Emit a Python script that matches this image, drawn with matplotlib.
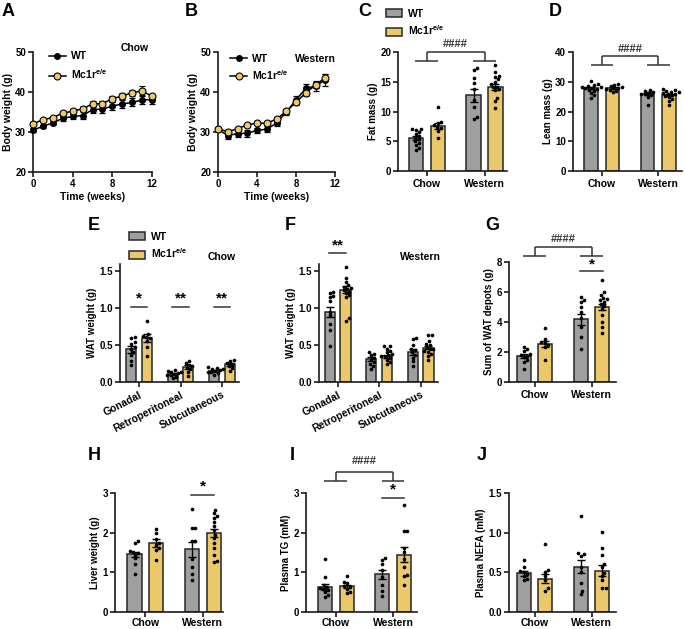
import matplotlib
matplotlib.use("Agg")
import matplotlib.pyplot as plt
from matplotlib.patches import Patch
from matplotlib.lines import Line2D
import numpy as np

plt.rcParams['font.family'] = ['Liberation Sans', 'DejaVu Sans']
plt.rcParams['font.weight'] = 'bold'
plt.rcParams['mathtext.fontset'] = 'custom'
plt.rcParams['mathtext.rm'] = 'Liberation Sans:bold'
plt.rcParams['mathtext.it'] = 'Liberation Sans:bold'
plt.rcParams['mathtext.bf'] = 'Liberation Sans:bold'

# ---------------- data ----------------
genotypes = ['WT', r'Mc1r$^{e/e}$']
diets = ['Chow', 'Western']
depots = ['Gonadal', 'Retroperitoneal', 'Subcutaneous']

weeks_chow = [0, 1, 2, 3, 4, 5, 6, 7, 8, 9, 10, 11, 12]
bw_chow_wt = [30.5, 31.4, 32.3, 33.4, 33.9, 34.1, 35.6, 35.7, 36.5, 37.0, 37.4, 38.0, 38.1]
bw_chow_wt_sem = [0.4, 0.4, 0.5, 0.6, 0.7, 0.8, 0.8, 0.9, 0.9, 1.0, 1.0, 1.1, 1.0]
bw_chow_ko = [32.0, 33.1, 33.6, 34.7, 35.2, 35.8, 37.0, 37.1, 38.3, 39.0, 39.8, 40.3, 38.9]
bw_chow_ko_sem = [0.4, 0.5, 0.5, 0.6, 0.6, 0.6, 0.7, 0.7, 0.7, 0.8, 0.8, 1.1, 0.7]

weeks_west = [0, 1, 2, 3, 4, 5, 6, 7, 8, 9, 10, 11]
bw_west_wt = [30.7, 29.1, 29.6, 29.7, 30.4, 30.7, 32.2, 35.0, 38.0, 40.9, 41.5, 43.0]
bw_west_wt_sem = [0.5, 0.8, 0.9, 0.9, 0.7, 0.7, 0.6, 0.8, 1.0, 1.0, 1.2, 1.4]
bw_west_ko = [30.8, 30.1, 30.8, 31.8, 32.2, 32.2, 33.2, 35.2, 37.4, 39.8, 41.7, 43.6]
bw_west_ko_sem = [0.4, 0.4, 0.4, 0.4, 0.4, 0.5, 0.5, 0.6, 0.7, 0.8, 0.8, 0.9]

# bar order: Chow-WT, Chow-Mc1r, Western-WT, Western-Mc1r
fat_mean = [5.6, 7.5, 12.7, 14.1]
fat_sem = [0.35, 0.5, 1.05, 0.55]
fat_pts = [[3.6, 3.9, 4.3, 4.7, 5.0, 5.3, 5.6, 5.9, 6.3, 6.6, 6.9, 7.0, 7.1],
           [5.5, 6.8, 7.2, 7.4, 7.7, 8.0, 8.3, 10.7],
           [8.8, 9.1, 10.8, 12.0, 13.7, 14.8, 15.6, 17.0, 17.3],
           [10.6, 11.7, 12.2, 13.6, 13.7, 14.1, 14.2, 14.6, 15.0, 15.4, 15.8, 16.0, 16.7, 17.8]]

lean_mean = [28.0, 27.9, 26.0, 25.6]
lean_sem = [0.4, 0.3, 0.5, 0.35]
lean_pts = [[24.6, 25.5, 26.3, 27.0, 27.3, 27.6, 27.8, 28.0, 28.2, 28.4, 28.6, 28.9, 29.2, 30.3],
            [26.5, 27.0, 27.3, 27.5, 27.8, 28.0, 28.3, 28.7, 29.0, 29.3],
            [22.3, 25.0, 25.5, 25.8, 26.0, 26.2, 26.5, 27.0, 27.3],
            [22.3, 23.5, 24.3, 24.8, 25.2, 25.5, 25.8, 26.0, 26.2, 26.4, 26.7, 27.0, 27.2, 27.5]]

# WAT order: Gonadal WT, Gonadal Mc1r, Retro WT, Retro Mc1r, Subcut WT, Subcut Mc1r
wat_chow_mean = [0.44, 0.595, 0.11, 0.20, 0.15, 0.24]
wat_chow_sem = [0.045, 0.05, 0.012, 0.025, 0.01, 0.02]
wat_chow_pts = [[0.23, 0.29, 0.37, 0.41, 0.45, 0.47, 0.52, 0.54, 0.59, 0.61],
                [0.35, 0.47, 0.56, 0.59, 0.61, 0.62, 0.65, 0.82],
                [0.05, 0.07, 0.09, 0.10, 0.11, 0.12, 0.13, 0.14, 0.15, 0.16],
                [0.08, 0.13, 0.17, 0.19, 0.21, 0.23, 0.26, 0.29],
                [0.10, 0.12, 0.13, 0.14, 0.15, 0.16, 0.17, 0.18, 0.19, 0.20],
                [0.15, 0.19, 0.22, 0.24, 0.26, 0.28, 0.30]]

wat_west_mean = [0.95, 1.25, 0.31, 0.35, 0.40, 0.46]
wat_west_sem = [0.07, 0.045, 0.025, 0.02, 0.04, 0.02]
wat_west_pts = [[0.48, 0.70, 0.79, 0.90, 0.95, 1.10, 1.15, 1.16, 1.20, 1.22],
                [0.83, 0.86, 1.15, 1.17, 1.20, 1.22, 1.24, 1.26, 1.27, 1.29, 1.31, 1.35, 1.40, 1.55],
                [0.18, 0.22, 0.25, 0.27, 0.30, 0.33, 0.36, 0.38, 0.40],
                [0.24, 0.27, 0.30, 0.32, 0.34, 0.35, 0.36, 0.38, 0.40, 0.42, 0.45, 0.48, 0.48],
                [0.22, 0.28, 0.33, 0.37, 0.40, 0.43, 0.45, 0.50, 0.58, 0.60],
                [0.30, 0.35, 0.38, 0.40, 0.42, 0.44, 0.45, 0.47, 0.50, 0.52, 0.55, 0.63, 0.63]]

watsum_mean = [1.74, 2.53, 4.18, 5.03]
watsum_sem = [0.14, 0.22, 0.38, 0.2]
watsum_pts = [[0.9, 1.34, 1.5, 1.68, 1.75, 1.83, 1.9, 2.08, 2.17, 2.35],
              [1.45, 2.35, 2.5, 2.6, 2.68, 2.84, 3.62],
              [2.23, 3.02, 3.69, 4.25, 4.69, 5.03, 5.36, 5.5, 5.65],
              [3.24, 3.69, 4.02, 4.47, 4.85, 5.07, 5.2, 5.36, 5.45, 5.52, 5.6, 5.81, 5.97, 6.77]]

liver_mean = [1.45, 1.73, 1.58, 1.99]
liver_sem = [0.07, 0.1, 0.19, 0.1]
liver_pts = [[0.95, 1.22, 1.35, 1.44, 1.5, 1.52, 1.54, 1.73, 1.79],
             [1.31, 1.56, 1.61, 1.70, 1.75, 1.85, 1.99, 2.09],
             [0.8, 0.97, 1.14, 1.33, 1.78, 1.8, 2.13, 2.13, 2.6],
             [1.27, 1.28, 1.44, 1.61, 1.75, 1.86, 1.94, 2.07, 2.17, 2.28, 2.37, 2.43, 2.5, 2.58]]

tg_mean = [0.63, 0.65, 0.95, 1.44]
tg_sem = [0.08, 0.04, 0.12, 0.19]
tg_pts = [[0.38, 0.42, 0.51, 0.55, 0.59, 0.6, 0.63, 0.68, 0.87, 1.33],
          [0.48, 0.5, 0.59, 0.62, 0.66, 0.72, 0.76, 0.9],
          [0.4, 0.53, 0.68, 0.87, 1.06, 1.2, 1.3, 1.35],
          [0.68, 0.9, 0.93, 1.14, 1.33, 1.52, 1.61, 2.03, 2.05, 2.7]]

nefa_mean = [0.49, 0.42, 0.57, 0.52]
nefa_sem = [0.03, 0.06, 0.08, 0.07]
nefa_pts = [[0.4, 0.42, 0.45, 0.48, 0.51, 0.52, 0.57, 0.66],
            [0.27, 0.3, 0.4, 0.45, 0.5, 0.53, 0.86],
            [0.23, 0.27, 0.36, 0.51, 0.57, 0.71, 0.73, 0.74, 1.21],
            [0.3, 0.3, 0.4, 0.45, 0.49, 0.57, 0.61, 0.72, 0.81, 1.01]]

# ---------------- styling / layout ----------------
GRAY = '#9f9f9f'
YELLOW = '#ebc96a'
EDGE = '#262626'
INK = '#1a1a1a'

W, H = 685, 629
fig = plt.figure(figsize=(W / 100, H / 100), dpi=100)


def px_axes(l, t, r, b):
    return fig.add_axes([l / W, 1 - b / H, (r - l) / W, (b - t) / H])


def style(ax):
    for s in ['top', 'right']:
        ax.spines[s].set_visible(False)
    for s in ['left', 'bottom']:
        ax.spines[s].set_linewidth(1.2)
        ax.spines[s].set_color(INK)
    ax.tick_params(width=1.2, length=3.5, labelsize=7, pad=1.5, color=INK)
    ax.patch.set_alpha(0)


def letter(s, x, y):
    fig.text(x / W, 1 - y / H, s, fontsize=13, fontweight='bold', va='top', ha='left')


def ftext(s, x, y, size=7.5, ha='center'):
    fig.text(x / W, 1 - y / H, s, fontsize=size, fontweight='bold', va='center', ha=ha)


def swarm(ax, ys, diam=3.5, step=0.5):
    p0 = ax.transData.transform((0, 0))
    p1 = ax.transData.transform((1, 1))
    sx, sy = p1[0] - p0[0], p1[1] - p0[1]
    order = np.argsort(ys)
    placed = []
    offs = np.zeros(len(ys))
    for i in order:
        yp = ys[i] * sy
        k = 0
        found = None
        while found is None:
            cands = [0.0] if k == 0 else [k * step, -k * step]
            for c in cands:
                if all((c - px) ** 2 + (yp - py) ** 2 >= diam ** 2 for px, py in placed):
                    found = c
                    break
            k += 1
        placed.append((found, yp))
        offs[i] = found / sx
    return offs


BW = 0.245
OFF = 0.19


def bar_panel(ax, means, sems, pts, ngroups, xlim, ylim, yticks, ylabel, xlabels,
              ylabelpad=1.5, xpad=2):
    style(ax)
    ax.set_xlim(*xlim)
    ax.set_ylim(*ylim)
    xs = []
    for g in range(ngroups):
        xs += [g - OFF, g + OFF]
    colors = [GRAY, YELLOW] * ngroups
    ax.bar(xs, means, width=BW, color=colors, edgecolor=EDGE, linewidth=1.1, zorder=1)
    for x, p in zip(xs, pts):
        p = np.asarray(p, dtype=float)
        o = swarm(ax, p)
        ax.scatter(x + o, p, s=7, color='black', linewidths=0, zorder=3, clip_on=False)
    ax.errorbar(xs, means, yerr=sems, fmt='none', ecolor='black', elinewidth=1.0,
                capsize=3, capthick=1.0, zorder=4)
    ax.set_xticks(range(ngroups))
    ax.set_xticklabels(xlabels, fontsize=7.5, fontweight='bold')
    ax.tick_params(axis='x', pad=xpad)
    ax.set_yticks(yticks)
    ax.set_ylabel(ylabel, fontsize=7, fontweight='bold', labelpad=ylabelpad)


def diet_bracket(ax, y_low, y_top, y_text, half=0.2):
    kw = dict(color='#333333', lw=1.1, clip_on=False, solid_capstyle='butt')
    for g in (0, 1):
        ax.plot([g - half, g + half], [y_low, y_low], **kw)
        ax.plot([g, g], [y_low, y_top], **kw)
    ax.plot([0, 1], [y_top, y_top], **kw)
    ax.text(0.5, y_text, '####', ha='center', va='center', fontsize=8, fontweight='bold',
            clip_on=False, color='#333333')


def sig(ax, g, y_line, y_star, s, half=0.2):
    ax.plot([g - half, g + half], [y_line, y_line], color='#333333', lw=1.1, clip_on=False)
    ax.text(g, y_star, s, ha='center', va='center', fontsize=11, fontweight='bold', clip_on=False)


def line_panel(ax, weeks, wt, wt_sem, ko, ko_sem, ylabel_pad=1.5):
    style(ax)
    ax.errorbar(weeks, wt, yerr=wt_sem, color='black', lw=1.1, marker='o', ms=4,
                mfc='black', mec='black', capsize=2, elinewidth=0.9, capthick=0.9,
                clip_on=False, zorder=3)
    ax.errorbar(weeks, ko, yerr=ko_sem, color='black', lw=1.1, marker='o', ms=5,
                mfc=YELLOW, mec='black', mew=0.8, capsize=2, elinewidth=0.9, capthick=0.9,
                clip_on=False, zorder=4)
    ax.set_xlim(0, 12)
    ax.set_ylim(20, 50)
    ax.set_xticks([0, 4, 8, 12])
    ax.set_yticks([20, 30, 40, 50])
    ax.set_xlabel('Time (weeks)', fontsize=7.5, fontweight='bold', labelpad=2)
    ax.set_ylabel('Body weight (g)', fontsize=7.5, fontweight='bold', labelpad=ylabel_pad)
    handles = [Line2D([0], [0], color='black', lw=1.1, marker='o', ms=4, mfc='black', mec='black'),
               Line2D([0], [0], color='black', lw=1.1, marker='o', ms=5, mfc=YELLOW, mec='black', mew=0.8)]
    return handles


# ---------------- A ----------------
axA = px_axes(33, 52, 152, 172)
h = line_panel(axA, weeks_chow, bw_chow_wt, bw_chow_wt_sem, bw_chow_ko, bw_chow_ko_sem)
axA.legend(h, genotypes, loc='upper left', bbox_to_anchor=(0.09, 1.05), frameon=False,
           fontsize=7.5, handlelength=1.6, handletextpad=0.5, labelspacing=0.6, borderpad=0)
ftext('Chow', 135, 48)
letter('A', 2, 3)

# ---------------- B ----------------
axB = px_axes(218, 52, 335, 172)
h = line_panel(axB, weeks_west, bw_west_wt, bw_west_wt_sem, bw_west_ko, bw_west_ko_sem)
axB.legend(h, genotypes, loc='upper left', bbox_to_anchor=(0.06, 1.03), frameon=False,
           fontsize=7.5, handlelength=1.6, handletextpad=0.5, labelspacing=0.4, borderpad=0)
ftext('Western', 315, 59)
letter('B', 185, 3)

# ---------------- C ----------------
axC = px_axes(398, 52, 507, 171)
bar_panel(axC, fat_mean, fat_sem, fat_pts, 2, (-0.5, 1.39), (0, 20), [0, 5, 10, 15, 20],
          'Fat mass (g)', diets)
diet_bracket(axC, 18.5, 20, 21.3)
legend_handles = [Patch(facecolor=GRAY, edgecolor=EDGE, lw=1.1),
                  Patch(facecolor=YELLOW, edgecolor=EDGE, lw=1.1)]
fig.legend(legend_handles, genotypes, loc='upper left', bbox_to_anchor=(386 / W, 1 - 9 / H),
           frameon=False, fontsize=7.5, handlelength=1.5, handleheight=0.8, handletextpad=0.6,
           labelspacing=0.45, borderpad=0, borderaxespad=0)
letter('C', 358, 3)

# ---------------- D ----------------
axD = px_axes(573, 52, 682, 171)
bar_panel(axD, lean_mean, lean_sem, lean_pts, 2, (-0.51, 1.42), (0, 40), [0, 10, 20, 30, 40],
          'Lean mass (g)', diets)
diet_bracket(axD, 35.6, 38.6, 41.0)
letter('D', 549, 3)

# ---------------- E ----------------
axE = px_axes(120, 263.6, 239, 382)
bar_panel(axE, wat_chow_mean, wat_chow_sem, wat_chow_pts, 3, (-0.46, 2.41), (0, 1.6),
          [0.0, 0.5, 1.0, 1.5], 'WAT weight (g)', depots)
axE.set_yticklabels(['0.0', '0.5', '1.0', '1.5'])
for lab in axE.get_xticklabels():
    lab.set_rotation(27)
    lab.set_ha('right')
    lab.set_rotation_mode('anchor')
    lab.set_fontsize(7.5)
sig(axE, 0, 1.02, 1.13, '*')
sig(axE, 1, 1.02, 1.13, '**')
sig(axE, 2, 1.02, 1.13, '**')
fig.legend(legend_handles, genotypes, loc='upper left', bbox_to_anchor=(129 / W, 1 - 232 / H),
           frameon=False, fontsize=7.5, handlelength=1.5, handleheight=0.8, handletextpad=0.6,
           labelspacing=0.45, borderpad=0, borderaxespad=0)
ftext('Chow', 222, 257)
letter('E', 88, 217)

# ---------------- F ----------------
axF = px_axes(319, 263.6, 438, 382)
bar_panel(axF, wat_west_mean, wat_west_sem, wat_west_pts, 3, (-0.45, 2.42), (0, 1.6),
          [0.0, 0.5, 1.0, 1.5], 'WAT weight (g)', depots)
axF.set_yticklabels(['0.0', '0.5', '1.0', '1.5'])
for lab in axF.get_xticklabels():
    lab.set_rotation(27)
    lab.set_ha('right')
    lab.set_rotation_mode('anchor')
    lab.set_fontsize(7.5)
sig(axF, 0, 1.74, 1.85, '**')
ftext('Western', 420, 257)
letter('F', 285, 217)

# ---------------- G ----------------
axG = px_axes(509, 262, 616, 382)
bar_panel(axG, watsum_mean, watsum_sem, watsum_pts, 2, (-0.45, 1.43), (0, 8), [0, 2, 4, 6, 8],
          'Sum of WAT depots (g)', diets)
diet_bracket(axG, 8.4, 9.0, 9.5)
sig(axG, 1, 7.4, 7.85, '*')
letter('G', 485, 217)

# ---------------- H ----------------
axH = px_axes(115, 493, 223, 612)
bar_panel(axH, liver_mean, liver_sem, liver_pts, 2, (-0.53, 1.35), (0, 3), [0, 1, 2, 3],
          'Liver weight (g)', diets, xpad=1)
sig(axH, 1, 2.95, 3.17, '*')
letter('H', 88, 447)

# ---------------- I ----------------
axI = px_axes(306, 493, 417, 612)
bar_panel(axI, tg_mean, tg_sem, tg_pts, 2, (-0.52, 1.42), (0, 3), [0, 1, 2, 3],
          'Plasma TG (mM)', diets, xpad=1)
diet_bracket(axI, 3.3, 3.53, 3.8)
sig(axI, 1, 2.87, 3.1, '*')
letter('I', 290, 447)

# ---------------- J ----------------
axJ = px_axes(509, 493, 616, 612)
bar_panel(axJ, nefa_mean, nefa_sem, nefa_pts, 2, (-0.45, 1.43), (0, 1.5), [0.0, 0.5, 1.0, 1.5],
          'Plasma NEFA (mM)', diets, xpad=1)
axJ.set_yticklabels(['0.0', '0.5', '1.0', '1.5'])
letter('J', 477, 447)

fig.savefig('out.png', dpi=100)
